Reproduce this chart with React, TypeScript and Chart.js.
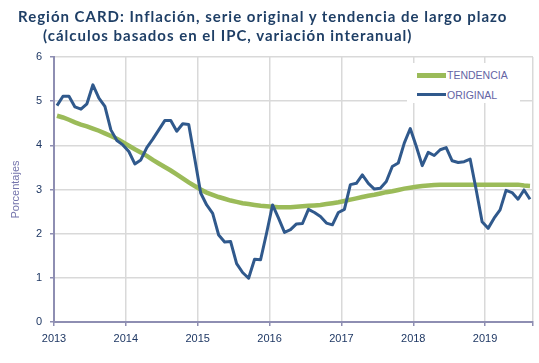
import React, { useEffect, useRef } from "react";
import { Chart, registerables } from "chart.js";

Chart.register(...registerables);

const yearLabels = ["2013", "2014", "2015", "2016", "2017", "2018", "2019"];
const yTicks = [0, 1, 2, 3, 4, 5, 6];

// Monthly values, Jan 2013 .. Aug 2019
const original = [
  4.9, 5.11, 5.11, 4.87, 4.82, 4.94, 5.37, 5.07, 4.88, 4.35, 4.11, 4.01,
  3.86, 3.58, 3.67, 3.95, 4.14, 4.35, 4.56, 4.56, 4.32, 4.49, 4.47, 3.7,
  2.92, 2.65, 2.46, 1.97, 1.81, 1.82, 1.32, 1.12, 0.99, 1.42, 1.41, 2.01,
  2.65, 2.35, 2.03, 2.09, 2.22, 2.23, 2.55, 2.48, 2.39, 2.24, 2.2, 2.48,
  2.55, 3.11, 3.14, 3.33, 3.14, 3.01, 3.03, 3.18, 3.52, 3.6, 4.05, 4.38,
  3.98, 3.54, 3.84, 3.77, 3.9, 3.95, 3.65, 3.61, 3.63, 3.69, 3.0, 2.27,
  2.12, 2.35, 2.54, 2.98, 2.93, 2.78, 2.99, 2.78,
];

const tendencia = [
  4.67, 4.63, 4.58, 4.52, 4.47, 4.43, 4.38, 4.33, 4.27, 4.21, 4.15, 4.07,
  3.99, 3.91, 3.84, 3.76, 3.67, 3.59, 3.51, 3.43, 3.34, 3.25, 3.16, 3.08,
  3.0, 2.93, 2.88, 2.83, 2.79, 2.75, 2.72, 2.69, 2.67, 2.65, 2.63, 2.62,
  2.61, 2.6, 2.6, 2.6, 2.61, 2.62, 2.63, 2.64, 2.65, 2.67, 2.69, 2.71,
  2.74, 2.77, 2.8, 2.83, 2.86, 2.88, 2.91, 2.94, 2.96, 2.99, 3.02, 3.04,
  3.06, 3.08, 3.09, 3.1, 3.11, 3.11, 3.11, 3.11, 3.11, 3.11, 3.11, 3.11,
  3.11, 3.11, 3.11, 3.11, 3.11, 3.11, 3.09, 3.08,
];

const GREEN = "#9BBB59";
const BLUE = "#30598C";
const AXIS = "#8E8EB2";
const GRID = "#D9D9D9";
const TICK_TEXT = "#1F3864";
const PURPLE = "#6464A4";

export default function App() {
  const canvasRef = useRef<HTMLCanvasElement | null>(null);

  useEffect(() => {
    const canvas = canvasRef.current;
    if (!canvas) return;
    const toPoints = (arr: number[]) => arr.map((v, i) => ({ x: i + 0.5, y: v }));
    const chart = new Chart(canvas, {
      type: "line",
      data: {
        datasets: [
          {
            label: "TENDENCIA",
            data: toPoints(tendencia),
            borderColor: GREEN,
            borderWidth: 4.5,
            pointRadius: 0,
            tension: 0,
            fill: false,
            order: 2,
          },
          {
            label: "ORIGINAL",
            data: toPoints(original),
            borderColor: BLUE,
            borderWidth: 3,
            pointRadius: 0,
            tension: 0,
            fill: false,
            order: 1,
            borderJoinStyle: "round",
          },
        ],
      },
      options: {
        animation: false,
        responsive: false,
        devicePixelRatio: 1,
        layout: { padding: { left: 0, right: 4, top: 57, bottom: 0 } },
        plugins: {
          legend: { display: false },
          title: { display: false },
          tooltip: { enabled: false },
        },
        scales: {
          x: {
            type: "linear",
            min: 0,
            max: 80,
            afterBuildTicks: (scale: any) => {
              const t = yearLabels.map((_, i) => ({ value: i * 12 }));
              t.push({ value: 80 });
              scale.ticks = t;
            },
            afterFit: (scale: any) => {
              scale.height = 41;
            },
            ticks: {
              autoSkip: false,
              maxRotation: 0,
              padding: 6,
              color: TICK_TEXT,
              font: { family: "'Liberation Sans', Arial, sans-serif", size: 11 },
              callback: (v: any) => {
                const idx = Math.round(Number(v) / 12);
                return Number(v) % 12 === 0 && idx < yearLabels.length ? yearLabels[idx] : "";
              },
            },
            grid: {
              color: GRID,
              lineWidth: 1.5,
              drawTicks: true,
              tickLength: 4,
              tickColor: AXIS,
            },
            border: { color: AXIS, width: 2 },
          },
          y: {
            min: 0,
            max: 6,
            afterBuildTicks: (scale: any) => {
              scale.ticks = yTicks.map((v) => ({ value: v }));
            },
            afterFit: (scale: any) => {
              scale.width = 54;
            },
            ticks: {
              padding: 8,
              color: TICK_TEXT,
              font: { family: "'Liberation Sans', Arial, sans-serif", size: 11 },
            },
            grid: {
              color: GRID,
              lineWidth: 1.5,
              drawTicks: true,
              tickLength: 4,
              tickColor: AXIS,
            },
            border: { color: AXIS, width: 2 },
            title: {
              display: true,
              text: "Porcentajes",
              color: "#7474AC",
              padding: { top: 9, bottom: 0 },
              font: { family: "'Liberation Sans', Arial, sans-serif", size: 11 },
            },
          },
        },
      },
    });
    return () => chart.destroy();
  }, []);

  const titleStyle: React.CSSProperties = {
    position: "absolute",
    whiteSpace: "nowrap",
    fontFamily: "Lato, 'Open Sans', sans-serif",
    fontWeight: 700,
    fontSize: 15,
    lineHeight: "19px",
    letterSpacing: "1px",
    color: "#1F3F66",
  };
  const legendText: React.CSSProperties = {
    position: "absolute",
    left: 40,
    fontFamily: "'Liberation Sans', Arial, sans-serif",
    fontSize: 10.5,
    lineHeight: "14px",
    color: PURPLE,
    whiteSpace: "nowrap",
  };

  return (
    <div
      style={{
        position: "fixed",
        left: 0,
        top: 0,
        width: 539,
        height: 363,
        background: "#ffffff",
        overflow: "hidden",
      }}
    >
      <canvas ref={canvasRef} width={539} height={363} style={{ position: "absolute", left: 0, top: 0 }} />
      <div style={{ ...titleStyle, left: 18, top: 6.5 }}>
        Región CARD: Inflación, serie original y tendencia de largo plazo
      </div>
      <div style={{ ...titleStyle, left: 43, top: 25.5 }}>
        (cálculos basados en el IPC, variación interanual)
      </div>
      <div
        style={{
          position: "absolute",
          left: 407,
          top: 63,
          width: 113,
          height: 40,
          background: "#ffffff",
        }}
      >
        <div style={{ position: "absolute", left: 10, top: 10, width: 29, height: 4.5, background: GREEN }} />
        <div style={{ ...legendText, top: 5 }}>TENDENCIA</div>
        <div style={{ position: "absolute", left: 10, top: 30, width: 29, height: 3, background: BLUE }} />
        <div style={{ ...legendText, top: 24.5 }}>ORIGINAL</div>
      </div>
    </div>
  );
}
